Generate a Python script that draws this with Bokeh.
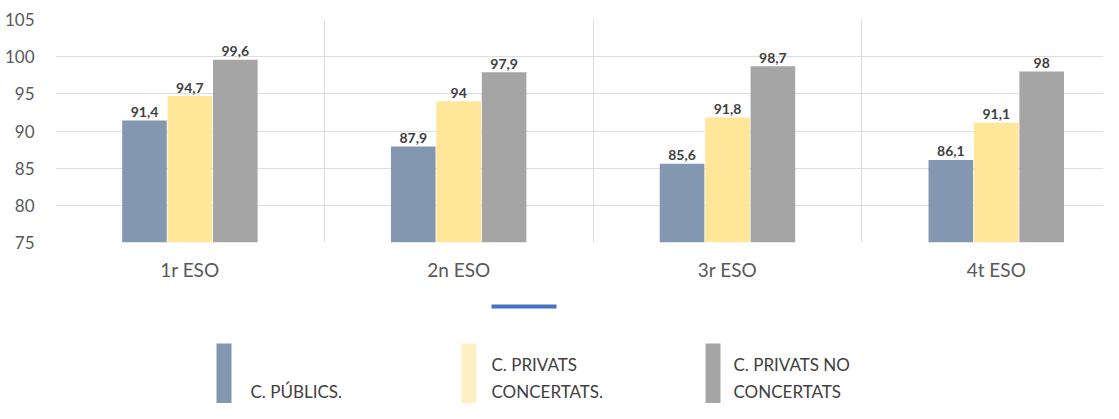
from bokeh.plotting import figure
from bokeh.models import Range1d, FixedTicker, ColumnDataSource
from bokeh.layouts import column
from bokeh.core.properties import value
from bokeh.embed import file_html
from bokeh.resources import INLINE

# ---- data ----
categories = ["1r ESO", "2n ESO", "3r ESO", "4t ESO"]
series_names = ["C. PÚBLICS.", "C. PRIVATS CONCERTATS.", "C. PRIVATS NO CONCERTATS"]
publics = [91.4, 87.9, 85.6, 86.1]
concertats = [94.7, 94.0, 91.8, 91.1]
no_concertats = [99.6, 97.9, 98.7, 98.0]
y_ticks = [75, 80, 85, 90, 95, 100, 105]

colors = ["#8497B0", "#FFE699", "#A5A5A5"]
legend_colors = ["#8497B0", "#FFF0C4", "#A5A5A5"]

W = 1103
H_MAIN = 290
H_LEG = 113
LEFT = 55

p = figure(width=W, height=H_MAIN, output_backend="svg", toolbar_location=None,
           x_range=Range1d(0, 3.899), y_range=Range1d(75, 105))
p.min_border_left = LEFT
p.min_border_right = 0
p.min_border_top = 19
p.min_border_bottom = 48
p.outline_line_color = None
p.background_fill_color = "white"
p.border_fill_color = "white"

bar_w = 0.166
step = 0.169
series = [publics, concertats, no_concertats]
for i, vals in enumerate(series):
    xs = [k + 0.5 + (i - 1) * step for k in range(len(categories))]
    src = ColumnDataSource(dict(x=xs, top=vals,
                                lab=[f"{v:g}".replace(".", ",") for v in vals]))
    p.vbar(x="x", top="top", bottom=75, width=bar_w, source=src,
           fill_color=colors[i], line_color=None)
    p.text(x="x", y="top", text="lab", source=src, text_align="center",
           text_baseline="alphabetic", y_offset=-8.5,
           text_font=value("Lato"), text_font_style="bold",
           text_font_size="14px", text_color="#404040")

# axes
p.yaxis.ticker = FixedTicker(ticks=y_ticks)
p.yaxis.axis_line_color = None
p.yaxis.major_tick_line_color = None
p.yaxis.minor_tick_line_color = None
p.yaxis.major_label_standoff = 15
p.yaxis.major_label_text_font = "Lato"
p.yaxis.major_label_text_font_size = "17px"
p.yaxis.major_label_text_color = "#595959"

p.xaxis.ticker = FixedTicker(ticks=[k + 0.5 for k in range(len(categories))])
p.xaxis.major_label_overrides = {k + 0.5: c for k, c in enumerate(categories)}
p.xaxis.axis_line_color = None
p.xaxis.major_tick_line_color = None
p.xaxis.minor_tick_line_color = None
p.xaxis.major_label_standoff = 9
p.xaxis.major_label_text_font = "Lato"
p.xaxis.major_label_text_font_size = "19px"
p.xaxis.major_label_text_color = "#595959"

p.ygrid.ticker = FixedTicker(ticks=y_ticks)
p.ygrid.grid_line_color = "#DEDEDE"
p.ygrid.grid_line_width = 1
p.xgrid.ticker = FixedTicker(ticks=list(range(len(categories) + 1)))
p.xgrid.grid_line_color = "#DEDEDE"
p.xgrid.grid_line_width = 1

# ---- legend area (custom, Excel-like) ----
lg = figure(width=W, height=H_LEG, output_backend="svg", toolbar_location=None,
            x_range=Range1d(LEFT, W), y_range=Range1d(H_MAIN + H_LEG, H_MAIN))
lg.min_border_left = LEFT
lg.min_border_right = 0
lg.min_border_top = 0
lg.min_border_bottom = 0
lg.outline_line_color = None
lg.xaxis.visible = False
lg.yaxis.visible = False
lg.grid.visible = False

lg.segment(x0=[491], y0=[306], x1=[556], y1=[306], line_color="#4472C4", line_width=4)

sw_left = [216, 461, 705]
lg.quad(left=sw_left, right=[l + 15 for l in sw_left], top=[343] * 3, bottom=[420] * 3,
        fill_color=legend_colors, line_color=None)

txt_x = [250, 491, 491, 733, 733]
txt_y = [391, 364, 391, 364, 391]
txt = ["C. PÚBLICS.", "C. PRIVATS", "CONCERTATS.", "C. PRIVATS NO", "CONCERTATS"]
lg.text(x=txt_x, y=txt_y, text=txt, text_align="left", text_baseline="middle",
        text_font=value("Lato"), text_font_size="17px", text_color="#404040")

layout = column(p, lg, spacing=0)
open("out.html", "w").write(file_html(layout, INLINE))
